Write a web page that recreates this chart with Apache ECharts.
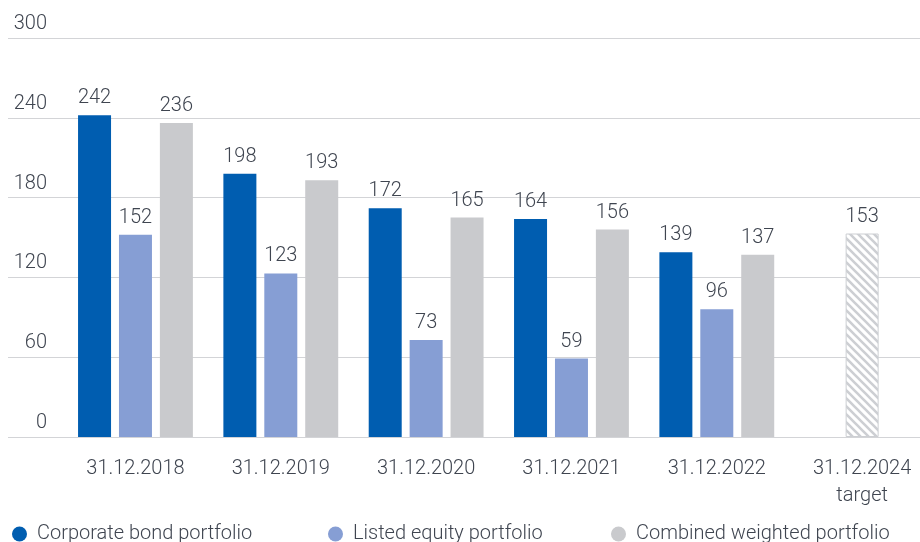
<!DOCTYPE html>
<html>
<head>
<meta charset="utf-8">
<script src="https://cdn.jsdelivr.net/npm/echarts@6/dist/echarts.min.js"></script>
<style>
  html, body { margin: 0; padding: 0; background: #fff; }
  #chart { width: 920px; height: 542px; }
</style>
</head>
<body>
<div id="chart"></div>
<script>
// Carbon footprint by reporting date
const categories = ['31.12.2018', '31.12.2019', '31.12.2020', '31.12.2021', '31.12.2022', '31.12.2024\ntarget'];
const corporateBond = [242, 198, 172, 164, 139, null];
const listedEquity = [152, 123, 73, 59, 96, null];
const combinedWeighted = [236, 193, 165, 156, 137, null];
const combinedTarget = [null, null, null, null, null, 153];
const yTicks = { min: 0, max: 300, interval: 60 };

const FONT = 'Roboto';
const WEIGHT = 300;
const TEXT = '#3f4550';
const C_BOND = '#005db0';
const C_EQUITY = '#869ed4';
const C_COMBINED = '#c9cacd';

// diagonal hatch for the target bar
function hatch() {
  const s = 8;
  const c = document.createElement('canvas');
  c.width = s; c.height = s;
  const g = c.getContext('2d');
  g.fillStyle = '#ffffff';
  g.fillRect(0, 0, s, s);
  g.strokeStyle = '#cdcfd3';
  g.lineWidth = 2.6;
  g.beginPath();
  g.moveTo(-2, -2); g.lineTo(s + 2, s + 2);
  g.moveTo(-2, s - 2); g.lineTo(2, s + 2);
  g.moveTo(s - 2, -2); g.lineTo(s + 2, 2);
  g.stroke();
  return c;
}

const valueLabel = {
  show: true,
  position: 'top',
  distance: 7,
  fontFamily: FONT,
  fontWeight: WEIGHT,
  fontSize: 20,
  color: TEXT
};

const chart = echarts.init(document.getElementById('chart'));
chart.setOption({
  animation: false,
  backgroundColor: '#ffffff',
  grid: [
    { left: 8, right: 0, top: 38, bottom: 105, outerBoundsMode: 'none' },
    { left: 62.8, width: 872, top: 38, bottom: 105, outerBoundsMode: 'none', containLabel: false }
  ],
  legend: [
    { data: ['Corporate bond portfolio'], left: 12 },
    { data: ['Listed equity portfolio'], left: 328 },
    { data: ['Combined weighted portfolio'], left: 611 }
  ].map(l => Object.assign(l, {
    top: 524,
    padding: 0,
    icon: 'circle',
    itemWidth: 15,
    itemHeight: 15,
    itemGap: 0,
    textStyle: { fontFamily: FONT, fontWeight: WEIGHT, fontSize: 20, color: TEXT, padding: [0, 0, 0, 5] }
  })),
  xAxis: [
    { gridIndex: 0, type: 'category', data: categories, show: false },
    {
      gridIndex: 1,
      type: 'category',
      data: categories,
      axisLine: { show: false },
      axisTick: { show: false },
      axisLabel: { fontFamily: FONT, fontWeight: WEIGHT, fontSize: 20, color: TEXT, margin: 18, lineHeight: 27 }
    }
  ],
  yAxis: [
    {
      gridIndex: 0,
      type: 'value',
      min: yTicks.min, max: yTicks.max, interval: yTicks.interval,
      axisLine: { show: false },
      axisTick: { show: false },
      splitLine: { lineStyle: { color: '#d3d4d7', width: 1 } },
      axisLabel: {
        inside: true,
        margin: 39,
        align: 'right',
        verticalAlign: 'bottom',
        padding: [0, 0, 4, 0],
        fontFamily: FONT, fontWeight: WEIGHT, fontSize: 20, color: TEXT
      }
    },
    {
      gridIndex: 1,
      type: 'value',
      min: yTicks.min, max: yTicks.max, interval: yTicks.interval,
      show: false,
      splitLine: { show: false }
    }
  ],
  series: [
    {
      name: 'Corporate bond portfolio', type: 'bar', xAxisIndex: 1, yAxisIndex: 1,
      data: corporateBond, barWidth: 33, barGap: '24%',
      itemStyle: { color: C_BOND }, label: valueLabel
    },
    {
      name: 'Listed equity portfolio', type: 'bar', xAxisIndex: 1, yAxisIndex: 1,
      stack: 'mid', data: listedEquity, barWidth: 33, barGap: '24%',
      itemStyle: { color: C_EQUITY }, label: valueLabel
    },
    {
      name: 'Combined weighted portfolio', type: 'bar', xAxisIndex: 1, yAxisIndex: 1,
      data: combinedWeighted, barWidth: 33, barGap: '24%',
      itemStyle: { color: C_COMBINED }, label: valueLabel
    },
    {
      name: 'Combined weighted target', type: 'bar', xAxisIndex: 1, yAxisIndex: 1,
      stack: 'mid', data: combinedTarget, barWidth: 33, barGap: '24%',
      itemStyle: {
        color: { image: hatch(), repeat: 'repeat' },
        borderColor: '#cdcfd3', borderWidth: 1
      },
      label: valueLabel
    }
  ]
});
</script>
</body>
</html>
